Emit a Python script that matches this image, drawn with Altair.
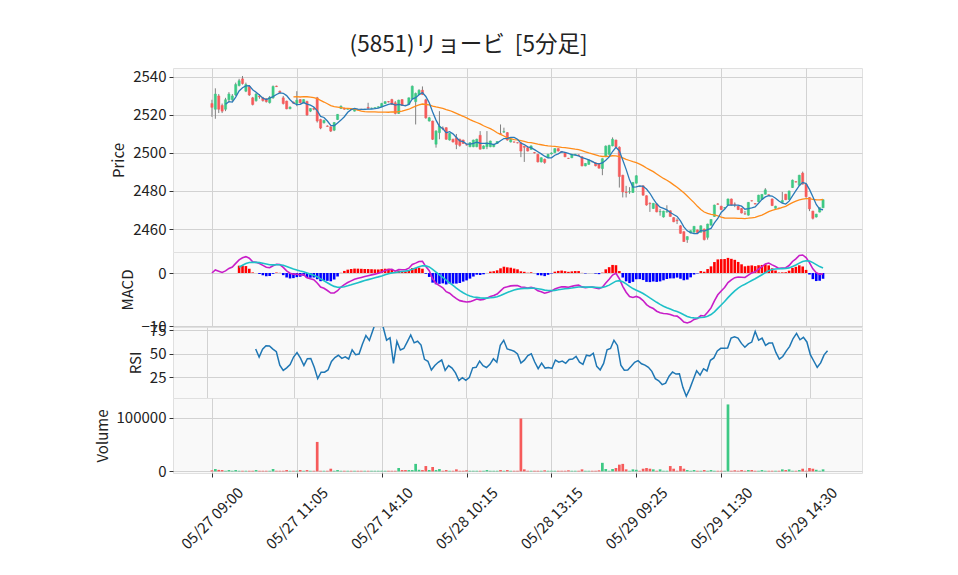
import json
import altair as alt
import numpy as np
import pandas as pd

# ---- OHLC (5-minute bars) ----
opens = [2526, 2523, 2530, 2525, 2523, 2528, 2528, 2530.5, 2535.5, 2539,
         2532.5, 2535, 2529, 2527.5, 2530, 2529, 2528.5, 2526.5, 2529, 2535.2,
         2532.5, 2529, 2527.3, 2523.3, 2526.8, 2526, 2528.1, 2526.4, 2527.1, 2522,
         2523.4, 2529, 2517.6, 2515.9, 2514.2, 2513.8, 2512, 2517.6, 2523.4, 2523.5,
         2523, 2523, 2522, 2522.8, 2523, 2522.8, 2524, 2523.5, 2523.6, 2524,
         2524.3, 2526, 2527, 2528.1, 2526.4, 2520.8, 2528.1, 2525.1, 2525.5, 2528.5,
         2527, 2530.7, 2533, 2528, 2516.8, 2516.8, 2504.6, 2510.7, 2513.1, 2513.3,
         2506.8, 2507.2, 2508, 2507.2, 2506.8, 2504.3, 2503.3, 2503.3, 2503.3, 2509.3,
         2502.3, 2503.3, 2503.3, 2503.3, 2505, 2510.2, 2511, 2510.7, 2505.8, 2505.8,
         2505.4, 2505.4, 2503.5, 2502.8, 2501.9, 2500.2, 2499.3, 2495.3, 2496.7, 2497.5,
         2499.5, 2500.2, 2502.3, 2500.8, 2500.2, 2497.2, 2497.5, 2499, 2499, 2498,
         2493.2, 2494, 2495.5, 2494.9, 2494.4, 2491.8, 2498, 2499.3, 2503.7, 2506.8,
         2503, 2488.3, 2479.5, 2479.5, 2479.2, 2484.1, 2482.4, 2482.7, 2477.5, 2473.5,
         2470.8, 2473.2, 2469, 2466.3, 2469, 2469.6, 2466, 2464.6, 2461.7, 2458.6,
         2454.4, 2457.9, 2458.3, 2459.5, 2458.3, 2460, 2455.6, 2462, 2466.6, 2473.2,
         2472, 2471, 2472.6, 2475.8, 2473.1, 2472, 2470.8, 2468, 2467.3, 2474.9,
         2473.4, 2474.3, 2475.5, 2478.3, 2478, 2475.8, 2470.9, 2471, 2474, 2478.3,
         2475.5, 2481.8, 2484.9, 2483, 2489.4, 2483.6, 2476.6, 2469.4, 2466.3, 2468.9,
         2471.2]
highs = [2528, 2534, 2531, 2526, 2529, 2532, 2531, 2537, 2539, 2540.5,
         2537, 2535.5, 2529.5, 2531.5, 2531, 2529.5, 2528.8, 2530, 2535.5, 2535.4,
         2532.8, 2530, 2527.5, 2524.5, 2527, 2532.5, 2528.3, 2528.3, 2527.5, 2523.6,
         2524, 2529.5, 2518, 2517.5, 2514.5, 2514, 2516.3, 2520.5, 2525, 2523.8,
         2523.5, 2523.2, 2523.5, 2523, 2523.2, 2523.2, 2526.4, 2523.8, 2524, 2524.5,
         2526.4, 2527.2, 2527.2, 2528.5, 2527.3, 2528, 2528.3, 2525.3, 2529.2, 2535.5,
         2531.8, 2533.5, 2535, 2528.5, 2519, 2517, 2512, 2522, 2514, 2513.5,
         2510.5, 2507.5, 2510, 2507.5, 2507, 2504.6, 2505.6, 2507, 2507.5, 2511.5,
         2504, 2511.5, 2506.5, 2504.8, 2506.2, 2515, 2513.3, 2511, 2507.4, 2506,
         2505.6, 2505.6, 2503.8, 2503, 2504, 2500.5, 2499.5, 2497.7, 2497, 2499.5,
         2500.3, 2502.5, 2502.5, 2501, 2500.4, 2497.4, 2499.5, 2499.5, 2499.2, 2498.3,
         2494.7, 2496.5, 2495.7, 2495, 2494.6, 2497.2, 2504, 2504.3, 2508.2, 2507,
         2503.5, 2488.5, 2482.7, 2482, 2484.7, 2488.3, 2482.6, 2483, 2477.7, 2474,
         2473.7, 2473.4, 2470.5, 2469.6, 2472.5, 2469.8, 2466.2, 2465.6, 2462, 2458.8,
         2456.2, 2459.3, 2461.6, 2459.7, 2461.9, 2460.2, 2462.8, 2465.2, 2472.8, 2473.6,
         2472.2, 2471.5, 2476, 2476, 2474, 2472.2, 2471, 2469.5, 2474.2, 2475,
         2473.6, 2478, 2478.4, 2481.5, 2478.2, 2476, 2472.2, 2471.2, 2479.5, 2478.5,
         2480.2, 2486, 2485.1, 2488.5, 2490.2, 2484, 2476.8, 2469.6, 2468, 2471.4,
         2475.6]
lows = [2519, 2518, 2521, 2521, 2522, 2527, 2527, 2530, 2535, 2536,
        2532, 2530, 2525, 2527, 2528.5, 2527, 2526.5, 2526, 2528.5, 2534.7,
        2531.5, 2525.5, 2523, 2523, 2526, 2524.6, 2526, 2526.2, 2519.5, 2521.5,
        2522.5, 2516, 2512.5, 2515.5, 2513.8, 2511, 2511.5, 2517.3, 2523.2, 2522.8,
        2522.8, 2522.7, 2521.8, 2522.5, 2522.6, 2522.6, 2523, 2523.3, 2523.4, 2523.8,
        2524, 2525.8, 2526.6, 2525.3, 2520.3, 2520.5, 2524.8, 2524.8, 2525.3, 2528.3,
        2515, 2530.5, 2530.5, 2518, 2516.5, 2506.8, 2502.8, 2507.2, 2512, 2507,
        2506.5, 2505.5, 2502, 2503.3, 2504.8, 2503.9, 2503, 2503, 2503, 2501.8,
        2502, 2502, 2503, 2503, 2504.8, 2509.8, 2510.6, 2506.5, 2505.5, 2505.5,
        2505.1, 2497.8, 2495.3, 2500.8, 2501.7, 2499.8, 2495, 2495, 2494.3, 2497.3,
        2499.2, 2500, 2500.8, 2500.2, 2497.8, 2496.9, 2497.3, 2498.8, 2498.4, 2493,
        2493, 2493.8, 2495.1, 2493, 2491.8, 2488.3, 2497.8, 2499, 2503.5, 2503,
        2481.8, 2476.6, 2476.6, 2478.5, 2479, 2483.9, 2482.1, 2477.5, 2472.3, 2469,
        2470.5, 2468.8, 2467, 2466, 2468.6, 2466.4, 2463.6, 2462.6, 2457.5, 2453.2,
        2452.7, 2457.7, 2458.1, 2457.8, 2458.1, 2454, 2454.4, 2461.8, 2466.4, 2472.8,
        2470, 2470.8, 2472.4, 2472.4, 2471.5, 2470, 2468.2, 2467.5, 2467, 2474.5,
        2473, 2474.1, 2475.3, 2478.1, 2477.6, 2472.1, 2470.7, 2470.6, 2473.6, 2475.2,
        2475.3, 2481.6, 2484.5, 2482.8, 2483.4, 2476.5, 2469.4, 2465, 2466, 2468.7,
        2471]
closes = [2524, 2531, 2523, 2522, 2528, 2531, 2530, 2536, 2538, 2536.5,
          2536, 2530.5, 2525.5, 2531, 2529.5, 2527.6, 2527, 2529.3, 2535, 2534.9,
          2531.8, 2526, 2523.2, 2524.1, 2526.2, 2527.8, 2526.4, 2528.1, 2520, 2523.4,
          2523, 2516.8, 2513.1, 2517.1, 2514, 2511.5, 2516, 2520.3, 2524.6, 2523,
          2523.2, 2522.9, 2523.3, 2522.7, 2522.8, 2523, 2523.5, 2523.6, 2523.8, 2524.3,
          2526, 2527, 2526.8, 2525.5, 2520.8, 2527.8, 2525, 2525, 2529, 2535.1,
          2531.3, 2533, 2530.7, 2518.5, 2518.5, 2507.2, 2511.5, 2514.1, 2512.9, 2507.2,
          2510.3, 2505.8, 2504.5, 2504, 2505, 2504.2, 2505.4, 2506.8, 2507.2, 2502,
          2503.7, 2505.4, 2506.3, 2504.5, 2506, 2510, 2511.2, 2506.8, 2507.2, 2505.7,
          2505.3, 2501, 2503, 2501, 2503.7, 2500, 2495.3, 2497.5, 2495, 2499.3,
          2500, 2502.3, 2501, 2500.5, 2498, 2497.1, 2499.3, 2499.3, 2498.6, 2493.2,
          2494.5, 2496.3, 2495.3, 2493.2, 2492, 2497, 2503.6, 2504, 2507.2, 2503.3,
          2487.6, 2479.5, 2479.2, 2479.6, 2484.5, 2488, 2482.3, 2477.8, 2472.6, 2473.3,
          2473.5, 2469, 2469.2, 2469.4, 2469.1, 2466.6, 2463.8, 2464.3, 2457.7, 2453.4,
          2456, 2459.1, 2461.4, 2458, 2461.7, 2454.4, 2462.6, 2465, 2472.6, 2473,
          2470.2, 2471.2, 2475.8, 2472.6, 2473, 2470.2, 2468.4, 2467.9, 2474, 2474.8,
          2473.1, 2477.8, 2478.2, 2480.6, 2477.8, 2472.3, 2472, 2470.8, 2475, 2475.4,
          2480, 2485.7, 2484.7, 2488.3, 2483.6, 2477, 2470.6, 2465.6, 2467.8, 2471.2,
          2475.4]
volumes = [2000, 4400, 2800, 2500, 1200, 2500, 1200, 2500, 1200, 1200,
           1200, 1200, 1200, 2500, 1200, 1200, 1200, 1200, 4400, 1200,
           1200, 1200, 2500, 1200, 1200, 1200, 2500, 1200, 2500, 1200,
           1200, 55000, 1200, 1200, 1200, 5000, 1200, 2500, 1200, 1200,
           1200, 1200, 1200, 1200, 1200, 1200, 1200, 1200, 1200, 1200,
           1200, 1200, 1200, 1200, 1200, 6300, 2500, 2500, 2500, 2500,
           14000, 3000, 2500, 10000, 2500, 8200, 2500, 4400, 1200, 2500,
           1200, 1200, 3800, 1200, 1200, 2000, 1200, 1200, 1200, 1200,
           1200, 2500, 1200, 1200, 1200, 2500, 1200, 2500, 1200, 1200,
           1200, 98700, 3800, 1200, 1200, 1200, 1200, 1200, 2000, 1200,
           1200, 1200, 1200, 1200, 1200, 2000, 1200, 1200, 1200, 3800,
           1200, 1200, 1200, 1200, 2000, 16000, 4400, 1200, 4400, 6300,
           12600, 14000, 3800, 1200, 3800, 3000, 1200, 5000, 6300, 5000,
           3800, 1200, 3800, 1200, 1200, 10000, 5000, 1200, 10000, 5000,
           2500, 1200, 2500, 1200, 1200, 2500, 1200, 2500, 1200, 1200,
           1200, 1200, 125000, 1200, 2000, 1200, 2500, 1200, 2500, 2500,
           1200, 1200, 2500, 1200, 1200, 1200, 1200, 1200, 3800, 2500,
           3800, 1200, 1200, 2500, 5000, 1200, 6300, 5000, 3000, 1200,
           3800]

tick_pos = [0, 25, 50, 75, 100, 125, 150, 175]
tick_labels = ["05/27 09:00", "05/27 11:05", "05/27 14:10", "05/28 10:15",
               "05/28 13:15", "05/29 09:25", "05/29 11:30", "05/29 14:30"]
price_ticks = [2460, 2480, 2500, 2520, 2540]
macd_ticks = [-10, 0]
rsi_ticks = [25, 50, 75]
vol_ticks = [0, 100000]

TITLE = "(5851)リョービ\u00a0\u00a0[5分足]"
FONT = "Noto Sans CJK JP"
UP, DOWN = "#3dc985", "#f65b5b"
HPOS, HNEG = "#ff0000", "#0000ff"

# ---- table & indicators derived from the bars ----
df = pd.DataFrame({"i": np.arange(len(closes)), "open": opens, "high": highs,
                   "low": lows, "close": closes, "volume": volumes})
df["zero"] = 0.0
df["ccol"] = np.where(df["close"] >= df["open"], UP, DOWN)
c = df["close"]
df["ma5"] = c.rolling(5).mean()
df["ma25"] = c.rolling(25).mean()
ema12 = c.ewm(span=12, adjust=False).mean()
ema26 = c.ewm(span=26, adjust=False).mean()
df["macd"] = ema12 - ema26
df["signal"] = df["macd"].ewm(span=9, adjust=False, min_periods=9).mean()
df["hist"] = df["macd"] - df["signal"]
df["hcol"] = np.where(df["hist"] >= 0, HPOS, HNEG)
d = c.diff()
gain = d.clip(lower=0).rolling(14).mean()
loss = (-d.clip(upper=0)).rolling(14).mean()
df["rsi"] = 100 - 100 / (1 + gain / loss)

W = 689
XDOM = [-10, 190]
label_expr = f"{json.dumps(tick_labels)}[indexof({json.dumps(tick_pos)}, datum.value)]"


def xenc(show):
    if show:
        axis = alt.Axis(values=tick_pos, labelExpr=label_expr, labelAngle=-45,
                        labelAlign="center", labelBaseline="middle", labelPadding=41,
                        labelOverlap=False, labelFlush=False, title=None, grid=True,
                        ticks=True, tickSize=4, domain=False)
    else:
        axis = alt.Axis(values=tick_pos, labels=False, ticks=False, domain=False,
                        title=None, grid=True)
    return alt.X("i:Q", scale=alt.Scale(domain=XDOM, nice=False, zero=False), axis=axis)


base = alt.Chart(df)

# price panel
yP = alt.Scale(domain=[2447.9, 2544.7], nice=False, zero=False)
axP = alt.Axis(values=price_ticks, title="Price", format="d")
wick = base.mark_rule(color="#808080", strokeWidth=1, clip=True).encode(
    x=xenc(False), y=alt.Y("low:Q", scale=yP, axis=axP), y2="high:Q")
body = base.mark_bar(size=2.2, strokeWidth=0.5, clip=True).encode(
    x=xenc(False), y=alt.Y("open:Q", scale=yP, axis=axP), y2="close:Q",
    color=alt.Color("ccol:N", scale=None),
    stroke=alt.Stroke("ccol:N", scale=None))
ma25 = base.mark_line(color="#ff8c1a", strokeWidth=1.3, clip=True).encode(
    x=xenc(False), y=alt.Y("ma25:Q", scale=yP, axis=axP))
ma5 = base.mark_line(color="#2a7ab8", strokeWidth=1.3, clip=True).encode(
    x=xenc(False), y=alt.Y("ma5:Q", scale=yP, axis=axP))
price = alt.layer(wick, body, ma25, ma5).properties(width=W, height=184)

# MACD panel
yM = alt.Scale(domain=[-10.1, 3.93], nice=False, zero=False)
axM = alt.Axis(values=macd_ticks, title="MACD", format="d")
hist = base.mark_bar(size=2.6, clip=True).encode(
    x=xenc(False), y=alt.Y("hist:Q", scale=yM, axis=axM), y2="zero:Q",
    color=alt.Color("hcol:N", scale=None))
mline = base.mark_line(color="#c81ec8", strokeWidth=1.6, clip=True).encode(
    x=xenc(False), y=alt.Y("macd:Q", scale=yM, axis=axM))
sline = base.mark_line(color="#1ec0c8", strokeWidth=1.6, clip=True).encode(
    x=xenc(False), y=alt.Y("signal:Q", scale=yM, axis=axM))
macd_c = alt.layer(hist, mline, sline).properties(width=W, height=75)

# RSI panel
yR = alt.Scale(domain=[2.8, 78.6], nice=False, zero=False)
rsi_c = base.mark_line(color="#1f77b4", strokeWidth=1.5, clip=True).encode(
    x=xenc(False), y=alt.Y("rsi:Q", scale=yR, axis=alt.Axis(values=rsi_ticks, title="RSI", format="d"))
).properties(width=W, height=71)

# Volume panel
yV = alt.Scale(domain=[-3000, 137000], nice=False, zero=False)
vol_c = base.mark_bar(size=2.7, clip=True).encode(
    x=xenc(True),
    y=alt.Y("volume:Q", scale=yV, axis=alt.Axis(values=vol_ticks, title="Volume", format="d")),
    y2="zero:Q",
    color=alt.Color("ccol:N", scale=None)
).properties(width=W, height=75)

chart = alt.vconcat(price, macd_c, rsi_c, vol_c, spacing=0, bounds="flush").properties(
    title=alt.TitleParams(TITLE, fontSize=22.5, font=FONT, fontWeight="normal",
                          color="#222222", anchor="middle", offset=11, dx=-10),
    padding={"left": 86, "top": 26, "right": 5, "bottom": 5},
).configure_view(
    fill="#f9f9f9", stroke="#e0e0e0", strokeWidth=1
).configure_axis(
    labelFont=FONT, titleFont=FONT, labelFontSize=15, titleFontSize=15,
    titleFontWeight="normal", labelColor="#222222", titleColor="#222222",
    gridColor="#d2d2d2", gridWidth=1, tickColor="#333333", tickSize=4,
    domain=False, labelPadding=3, titlePadding=6
)

chart.save("out.html", embed_options={"renderer": "svg", "actions": False})
